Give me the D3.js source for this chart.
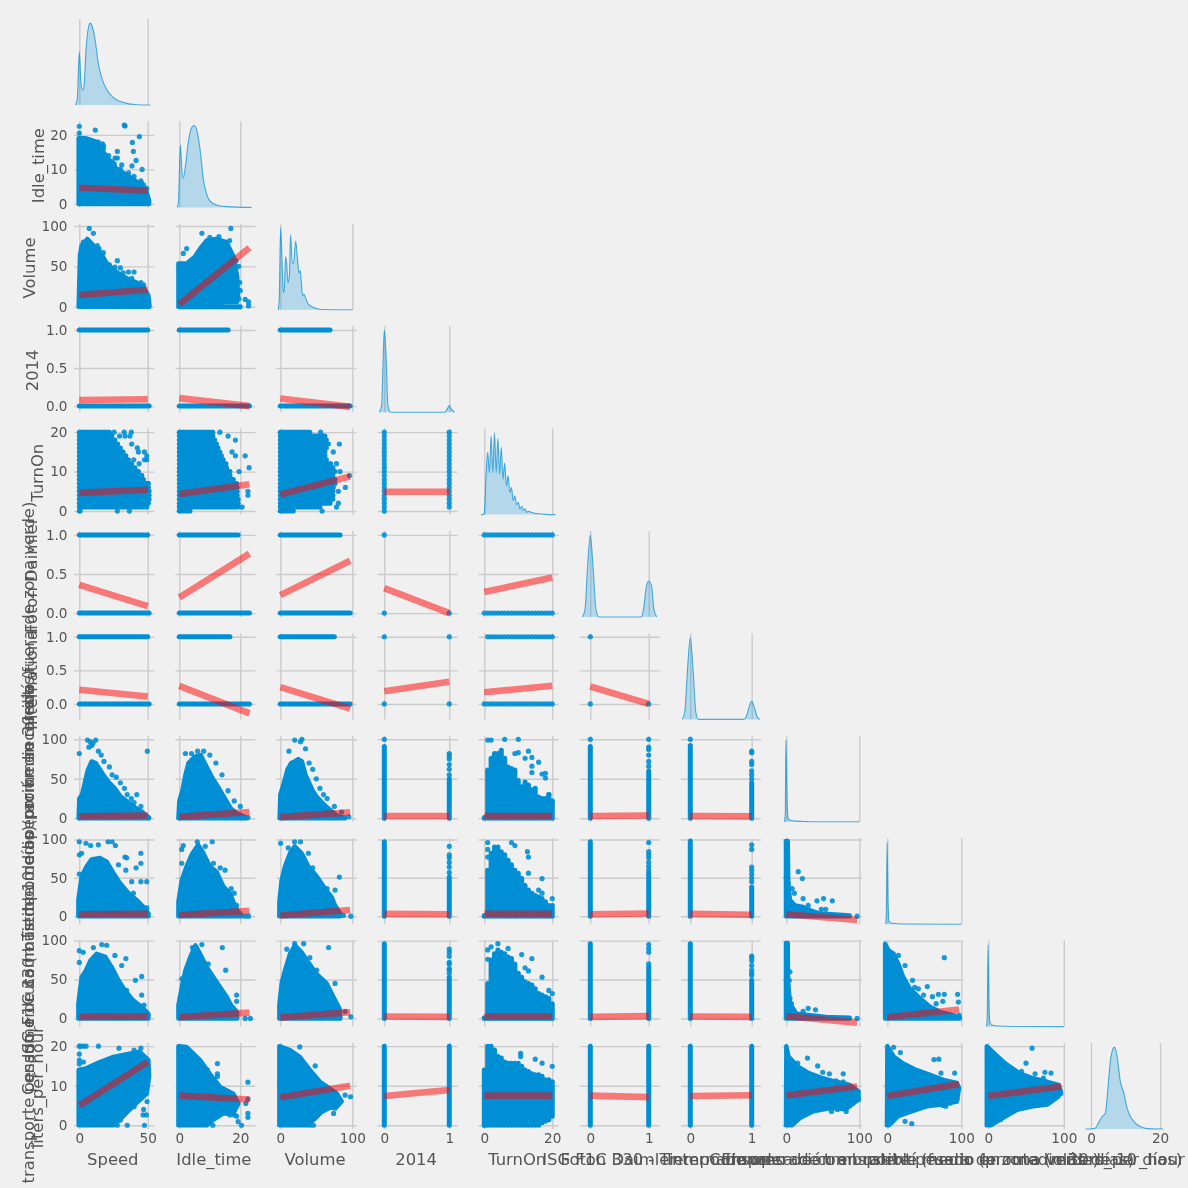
<!DOCTYPE html>
<html>
<head>
<meta charset="utf-8">
<script src="https://cdn.jsdelivr.net/npm/d3@7"></script>
<style>
  html, body { margin: 0; padding: 0; background: #f0f0f0; }
  svg { display: block; filter: blur(0.4px); }
  text { font-family: "DejaVu Sans", sans-serif; fill: #555555; }
</style>
</head>
<body>
<svg id="chart" width="1188" height="1188"></svg>
<script>
// variable names, the three long ones overlap in the picture so they are a best reading
var varNames = ["Speed", "Idle_time", "Volume", "2014", "TurnOn", "Foton Daimler", "International",
  "ISG F1C 330 - Tiempo de operación en ralentí (fuera de zona verde)",
  "Consumo de combustible medio (promedio 30 días)",
  "Empresa de transporte pesado en ruta (más de 10 días) por km recorrido",
  "liters_per_hour"];

var xLims = [[-3.65, 54.8], [-1.28, 24.95], [-5.3, 105.8], [-0.103, 1.128], [-1.65, 21.9], [-0.18, 1.19],
  [-0.153, 1.15], [-5.9, 103.7], [-5.7, 102.4], [-5.4, 100.5], [-1.65, 21.5]];
var yLims = [[], [-1, 23.9], [-3.8, 102.7], [-0.08, 1.05], [-0.9, 20.9], [-0.05, 1.05],
  [-0.23, 1.05], [-4.4, 104.4], [-10.4, 101.6], [-10.5, 100], [-0.95, 20.8]];
var xTicks = [[0, 50], [0, 20], [0, 100], [0, 1], [0, 20], [0, 1], [0, 1], [0, 100], [0, 100], [0, 100], [0, 20]];
var yTicks = [[], [0, 10, 20], [0, 50, 100], [0, 0.5, 1], [0, 10, 20], [0, 0.5, 1], [0, 0.5, 1],
  [0, 50, 100], [0, 50, 100], [0, 50, 100], [0, 10, 20]];
var yTickFormats = ["d", "d", "d", ".1f", "d", ".1f", ".1f", "d", "d", "d", "d"];
var kdeLim = [0, 1.05];

// density curves, [x, density relative to the peak]
var speedKde = [[-2.9,0],[-1.5,.065],[0,.65],[1.2,.27],[2.5,.18],[3.4,.22],[4.9,.67],[6.6,.94],[8,1],[9.8,.94],[11.5,.8],[13.9,.51],[16.4,.33],[20,.19],[24.9,.09],[29.8,.045],[34.6,.02],[39.5,.008],[44.4,0],[52,0]];
var idleKde = [[-.7,0],[-.3,.06],[.35,.76],[.9,.42],[1.3,.355],[2,.5],[3,.81],[4,.97],[4.8,1],[5.7,.95],[6.8,.71],[7.9,.34],[9,.16],[10,.08],[12.2,.03],[15.5,.01],[23.7,0]];
var volumeKde = [[-2.9,0],[-1.5,.13],[.4,1],[2.7,.53],[4.1,.21],[5.5,.25],[7.4,.65],[8.8,.57],[10.6,.33],[12.5,.41],[14.3,.92],[16.6,.57],[18.5,.57],[21.3,.84],[23.6,.65],[25.9,.45],[27.8,.48],[29.2,.33],[31,.17],[32.9,.19],[35.7,.13],[38.9,.07],[43.5,.04],[50.5,.016],[57.4,.004],[100.5,0]];
var flag2014Kde = [[-.077,0],[-.041,.08],[-.015,.72],[0,1],[.026,.72],[.056,.08],[.097,0],[.933,0],[.969,.04],[1,.08],[1.03,.04],[1.08,0]];
var turnOnKde = [[-1,0],[-.3,0],[0,.02],[.5,.47],[1,.76],[1.5,.51],[2,.96],[2.5,.51],[3,1],[3.5,.51],[4,.93],[4.5,.49],[5,.82],[5.5,.43],[6,.63],[6.5,.35],[7,.47],[7.5,.27],[8,.33],[8.5,.17],[9,.23],[9.5,.12],[10,.15],[10.5,.07],[11,.1],[11.5,.05],[12,.07],[12.5,.03],[13,.04],[14,.025],[15,.015],[16,.01],[18,.003],[21,0]];
var fotonKde = [[-.137,0],[-.091,.09],[-.05,.575],[0,1],[.05,.575],[.097,.09],[.148,0],[.87,0],[.91,.09],[.96,.37],[1,.44],[1.05,.37],[1.09,.09],[1.14,0]];
var intlKde = [[-.13,0],[-.09,.09],[-.05,.55],[0,1],[.05,.55],[.09,.09],[.13,0],[.87,0],[.91,.03],[.95,.13],[1,.22],[1.05,.13],[1.09,.03],[1.13,0]];
var modeAKde = [[-2.3,0],[-1.4,.1],[-.5,1],[.9,.35],[2.3,.05],[5,.02],[14,.008],[25,.004],[37,0],[100,0]];
var modeBKde = [[-2.3,0],[-1.4,.1],[-.3,1],[.9,.3],[2.3,.04],[5,.015],[14,.006],[30,.002],[100,0]];
var modeCKde = [[-2.3,0],[-1.4,.12],[-.3,1],[.9,.3],[2.3,.05],[5,.02],[14,.007],[30,.002],[100,0]];
var litersKde = [[-1.65,0],[-.5,0],[1.2,.01],[2.1,.07],[3.2,.15],[4.2,.2],[4.7,.4],[5.8,.89],[6.8,1],[7.7,.85],[8.4,.6],[9.5,.44],[10.4,.26],[11.7,.13],[13,.065],[14.3,.03],[16.3,.005],[20.9,0]];
var kdes = [speedKde, idleKde, volumeKde, flag2014Kde, turnOnKde, fotonKde, intlKde, modeAKde, modeBKde, modeCKde, litersKde];

// TurnOn only takes whole values
var turnOnLevels = [0,1,2,3,4,5,6,7,8,9,10,11,12,13,14,15,16,17,18,19,20];

// dense parts of the clouds as outlines [x, y], loose points as [x, y]
var idleBlobs = [[[-.5,0],[-.5,19],[5,19],[12.7,18],[20,13.7],[27,10.3],[34.6,8.4],[42,6.5],[49,3.6],[51,1],[51,0]]];
var idleDots = [[[0,22.5],[0,20.5],[32.9,22.8],[33.4,22.6],[11.7,21.4],[13.9,17.9],[16.9,17.4],[17.7,16.9],[17.7,16.1],[27.8,15.2],[26.1,13.3],[27.8,13.3],[25.6,11.6],[31,11.3],[24.9,11],[43.9,19.5],[38.8,17.8],[39.5,15.2],[41.5,12.6],[38.5,11],[45.9,10],[45,6.7],[45.5,6],[49.3,4.5],[21.5,14],[24,12.2],[30,10],[36,9],[40,8],[47,5.5],[16,16.5]]];
var idleFits = [[0,4.7,50,3.8]];

var volumeBlobs = [[[-.5,0],[.5,64],[1.7,76],[5.9,84],[10.3,76],[15.2,68],[20,54],[24.9,46],[29.8,40],[35.9,34],[42,30],[46.9,24],[50.5,14],[51.3,1],[51.3,0]],
  [[-.3,0],[-.3,53.7],[2.4,53.7],[5.1,62],[6.8,72],[9,82],[12,84],[15.5,80],[17.8,62],[19,37],[19.2,16],[19,6],[15.5,6],[12,4],[10,0]]];
var volumeDots = [[[7.3,97],[10.3,91],[13.2,75.7],[14.4,72],[17.6,67],[27.8,57],[26,49],[30,48],[35.9,43],[40,43],[38.3,35],[45,30],[22,52],[32,42],[47,27],[3,80]],
  [[7.4,91],[16.9,97],[1.3,66],[2.4,72],[21.6,9],[22.7,6],[22.7,1],[19.5,50],[18.6,57],[19.8,30],[20,20],[19.5,10],[16.5,82],[13,87],[10,86]]];
var volumeFits = [[0,14.5,50,21], [0,3,23,73]];
var volumeHbars = [[], [[0,0,20]]];

var flag2014Hbars = [[[1,0,50],[0,0,51]], [[1,0,16],[0,0,23]], [[1,0,69],[0,0,97]]];
var flag2014Fits = [[0,.08,50,.09], [0,.105,23,0], [0,.1,97,-.01]];

var turnOnSpeedMax = [.6,49.3,50.5,51,51,51,50.5,50.5,46.9,45.7,43.2,40.7,38.3,35.9,34,32,30,28,26,23.7,22];
var turnOnIdleMax = [3.5,19.3,19.3,19.3,19,19,19,18.8,17.7,16.6,16.6,15.5,15.3,14.4,13.8,13.3,12.7,12.2,11.6,11,11];
var turnOnVolumeMax = [18,55,69,73,73,73,73.6,76,76,73,76,73,70,64,62,62,64,66.7,64,62,41];
var turnOnDots = [[[25.4,20],[32.8,20],[38,20],[29.4,19],[33.4,19],[37,19],[38.3,17],[42.4,16],[43.2,15],[47.6,15],[49.3,14],[39.8,13],[43.7,12],[47.6,13],[49.3,13],[27.8,0],[36.6,0]],
  [[13.3,20],[16,19],[18.4,18],[17.3,15],[18.4,14],[21.6,14],[19.6,10],[22.9,11],[22.5,5],[22.5,4],[20.6,1]],
  [[56,20],[82,17],[73.6,15],[78,12],[83,10],[96,9],[90.3,6],[80.6,5],[80.6,2],[78,1],[58,0]],
  turnOnLevels.map(function(v) { return [0, v]; }).concat(turnOnLevels.slice(1).map(function(v) { return [1, v]; }))];
var turnOnFits = [[0,4.6,50,5.4], [0,4.3,23,6.8], [0,4.2,97,8.8], [0,4.9,1,4.9]];

var fotonHbars = [[[1,0,50],[0,0,51]], [[1,0,19.3],[0,0,23]], [[1,0,83],[0,0,97]]];
var fotonDots = [[], [], [], [[0,1],[0,0],[1,0]],
  turnOnLevels.map(function(v) { return [v, 1]; }).concat(turnOnLevels.map(function(v) { return [v, 0]; }))];
var fotonFits = [[0,.36,50,.09], [0,.2,23,.76], [0,.23,97,.67], [0,.32,1,0], [0,.27,20,.455]];

var intlHbars = [[[1,0,50],[0,0,51]], [[1,0,16.6],[0,0,23]], [[1,0,75],[0,0,97]]];
var intlDots = [[], [], [], [[0,1],[1,1],[0,0],[1,0]],
  turnOnLevels.slice(1).map(function(v) { return [v, 1]; }).concat(turnOnLevels.map(function(v) { return [v, 0]; })),
  [[0,1],[0,0],[1,0]]];
var intlFits = [[0,.21,50,.11], [0,.27,23,-.14], [0,.25,97,-.07], [0,.19,1,.33], [0,.174,20,.27], [0,.26,1,0]];

var modeABlobs = [[[-.5,0],[0,25],[2,30],[4,45],[6,60],[9,72],[12,70],[15,62],[18,54],[22,45],[26,38],[30,28],[36,20],[42,12],[48,5],[51,1],[51,0]],
  [[-.3,0],[0,22],[1,35],[2,55],[3,70],[5,78],[7,80],[9,65],[11,50],[13,38],[15,25],[17,12],[19,6],[22,1],[22,0]],
  [[-1,0],[0,30],[5,45],[10,62],[15,70],[20,72],[25,75],[30,72],[35,55],[40,45],[45,35],[50,28],[60,18],[70,10],[80,3],[90,1],[90,0]]];
var modeADots = [[[6,99],[8,97],[9,92],[10,95],[12,99],[14,85],[0,82],[7,90],[16,80],[18,72],[22,65],[24,55],[27,52],[30,45],[33,38],[35,30],[38,25],[40,20],[45,15],[49.7,85],[46,8],[42,30]],
  [[2,82],[4,82],[6,85],[8,85],[10,80],[12,70],[14,55],[16,35],[18,22],[20,15],[22.5,1]],
  [[20,99],[28,97],[30,100],[35,88],[12,85],[40,70],[45,62],[50,50],[55,38],[60,30],[65,25],[75,15],[85,8],[95,2]],
  [[0,100],[1,82],[1,79],[1,75],[1,68],[1,62],[1,55]],
  [[1,99],[2,99],[6,100],[10,100],[13,85],[9,82],[10,83],[12,76],[14,77],[16,71],[14,66],[14,58],[17,56],[18,57],[18,51],[19,30],[20,22]],
  [[0,100],[1,100],[1,90],[1,87],[1,80],[1,72],[1,66]],
  [[0,100],[1,85],[1,83],[1,72],[1,68],[1,60],[1,55],[1,50]]];
var modeATurnOnTop = [1,61,76,82,82,86,76,65,63,61,48,40,46,42,36,38,27,25,25,30,21];
var modeAFlagBars = [[], [], [], [[0,0,91],[1,0,50]], [], [[0,0,91],[1,0,60]], [[0,0,92],[1,0,45]]];
var modeAFits = [[0,2.5,50,3.5], [0,1.8,23,8], [0,1.5,97,7.5], [0,3,1,3], [0,3,20,3], [0,3,1,3.5], [0,3,1,2.5]];

var modeBBlobs = [[[-.7,0],[-.7,21],[1.7,52],[5.4,65],[9,74],[15,76],[20,71],[25,56],[29.8,43],[36,30],[42,21],[47,12],[50.6,3.5],[50.6,0]],
  [[-.3,0],[-.3,19],[.8,47],[2.4,65],[4,80],[6.2,93],[7.9,82],[10,65],[12.2,58],[14.4,39],[16.6,30],[17.7,19],[19,8],[20.5,1],[20.5,0]],
  [[-1.4,0],[-1.4,19],[1.8,47],[6.5,65],[13.4,82],[20,91],[29.6,82],[38.9,65],[50.5,52],[62,36],[71.4,25],[76,14],[83,3.5],[83,0]],
  [], [], [], [],
  [[-.5,0],[-.5,98],[2,98],[2.7,43],[5,21],[12,14],[23,12],[32,8],[46,3.5],[87,1],[87,0]]];
var modeBDots = [[[0,97],[4.9,95],[8.3,92],[13.9,93],[21,97],[24,97],[26.4,92],[0,80],[1.7,82],[33.4,77],[34.6,76],[28.6,67],[34,60],[38.3,45],[45,45],[49.3,45],[45,82],[45,69],[41.5,63],[0,55],[39.5,30],[49.3,11]],
  [[.8,87],[.8,69],[1.3,92],[5.9,97],[10.8,97],[8.5,91],[11.2,69],[15,60],[13.4,63],[17,36],[18,30],[18.8,14],[22.7,0],[21.6,0]],
  [[19.8,97],[28,97],[.4,95],[11,89],[39,82],[45,63],[82,51],[65,36],[76,34],[98,0],[87.6,1]],
  [[1,91],[1,80],[1,76],[1,70],[1,64],[1,57]],
  [[1,96],[8,96],[9,92],[1,87],[1,77],[12.7,84],[13,77],[13,56],[17,49],[20,23],[14,29],[16,34],[17,30]],
  [[1,96],[1,84],[1,80],[1,76],[1,70],[1,65],[1,60]],
  [[1,93],[1,87],[1,64],[1,60],[1,55],[1,50],[1,45]],
  [[16.4,58],[22,49],[2.7,43],[8,36],[11,30],[23,23],[42,20],[51,23],[63,20],[48,9],[54,9],[30,14],[97,0]]];
var modeBTurnOnTop = [1,60,82,90,90,84,80,73,67,60,56,49,40,34,30,27,25,23,19,14,14];
var modeBFlagBars = [[], [], [], [[0,0,97],[1,0,51]], [], [[0,0,97],[1,0,56]], [[0,0,98],[1,0,38]]];
var modeBFits = [[0,2.5,50,3.2], [0,1.5,23,7], [0,1,97,8], [0,3,1,2.5], [0,3,20,3], [0,2.5,1,3.5], [0,3,1,2], [0,2.6,97,-5]];

var modeCBlobs = [[[-.7,0],[-.7,19],[1.7,53],[4.9,62],[8,74],[12.7,83],[19,79],[23.7,66],[28.6,49],[33.4,36],[39.5,23],[45.6,15],[50.5,6],[50.5,0]],
  [[-.3,0],[-.3,17],[.8,40],[2,62],[3.6,79],[5.3,94],[6.8,83],[9,66],[11.2,53],[13.4,40],[15.5,28],[17,17],[19,8],[19,0]],
  [[-1.4,0],[-1.4,17],[1.8,45],[6.5,62],[13.4,83],[20.3,94],[29.6,85],[38.9,72],[50.5,57],[64.4,45],[73.6,28],[83,11],[83,0]],
  [], [], [], [],
  [[-.5,0],[-.5,97],[2,97],[2.3,49],[5,19],[14,6],[55,2],[87,1],[87,0]],
  [[-3,0],[-3,96],[1.3,88],[8,83],[15,70],[21.6,53],[30.6,38],[44,26],[57.6,15],[71,8.5],[98,2],[98,0]]];
var modeCDots = [[[0,87],[2.9,85],[10.3,91],[16.4,95],[20,94],[0,72],[26,81],[34,77],[31,68],[41,49],[45.6,54],[34.6,36],[45.6,30],[47.3,17],[50,4]],
  [[.8,32],[.8,51],[7.4,95],[4.3,91],[14.1,91],[9.5,70],[15.2,62],[18.8,30],[18.8,22],[21.6,0],[23.3,0]],
  [[9,89],[20,96],[32.5,96],[41,78],[67,91],[50.5,62],[76,45],[83,1],[98,2],[90,9]],
  [[1,89],[1,85],[1,80],[1,72],[1,70],[1,64],[1,62],[1,58]],
  [[1,88],[1,76],[4,96],[2,92],[7,90],[11,82],[14,77],[12,65],[13,61],[17,53],[19,36],[20,32]],
  [[1,95],[1,90],[1,85],[1,70],[1,66]],
  [[1,80],[1,78],[1,74],[1,68],[1,62],[1,58],[1,55]],
  [[5,60],[4,49],[5,26],[7,19],[23,9],[30,13],[40,11],[97,0]],
  [[8,83],[15,81],[24,68],[34,49],[77,78],[54,41],[37,40],[42,38],[49,30],[61,28],[69,31],[77,31],[95,31],[96,21],[66,19],[75,22],[97,4]]];
var modeCTurnOnTop = [1,45,75,83,88,85,83,79,77,70,58,53,47,45,43,38,32,30,28,26,19];
var modeCFlagBars = [[], [], [], [[0,0,96],[1,0,53]], [], [[0,0,96],[1,0,64]], [[0,0,96],[1,0,49]]];
var modeCFits = [[0,2,50,2.5], [0,1.5,23,7.5], [0,1,97,8], [0,2.5,1,2], [0,2.5,20,2.5], [0,2,1,3], [0,2.5,1,2], [0,3,97,-5.5], [0,1.5,97,11.5]];

var litersBlobs = [[[-.5,0],[-.5,14],[5,14.4],[15,16],[25,17.3],[34.6,18],[44,18.6],[50.5,16.5],[51,12.3],[49.3,8],[43,6],[37,4],[32.6,2.5],[27,.5],[25,0]],
  [[-.3,0],[-.3,20],[2.4,19.8],[6.8,16.5],[10,13],[13.4,9.7],[17.7,8],[19.4,5.5],[17.7,3],[14.4,3],[11,1.3],[9,0]],
  [[-1.4,0],[-1.4,20],[13.4,19],[27,17.3],[41,14],[55,11],[69,9.3],[78.5,8],[85.3,6],[78.5,4.7],[67,4.3],[57.8,3.4],[46,1.3],[37,0]],
  [], [], [], [],
  [[-.5,0],[0,20],[3,17.4],[15.5,14.9],[31,13.2],[50,11.9],[68,11],[87,10.2],[99,8.6],[99,6.5],[81,4],[62,4.4],[37,3.5],[18.6,1.8],[8,0]],
  [[-.5,0],[0,20],[8.5,17.4],[21,15.7],[39,14],[57,12.8],[75.6,11.5],[94,10.7],[97,9.4],[94,6],[72.5,5.2],[54,4.8],[33,3.5],[14.6,2.3],[2.4,0]],
  [[-2,0],[-2,20],[10,17.8],[22,15.7],[41,13.2],[59,11.9],[78,11],[93,10.2],[96,8.6],[93,7.3],[78,5.2],[59,4.8],[38,3.9],[19,1.8],[3.7,0]]];
var litersDots = [[[0,20],[1,20],[3,20],[5,20],[0,18],[0,16.5],[0,15.5],[3,16],[14,20],[29,19.5],[40,19],[45,19.5],[27,16],[38,5.5],[47,4],[46.6,2.6],[49,2.6],[47.6,0],[49.5,6],[27.8,0],[35,0],[30,1.3],[40,4.7]],
  [[12.5,15.6],[12.5,13],[12.5,12.3],[9.2,14],[22.5,10.9],[22.5,6.6],[21.8,5.5],[22.5,3],[22.5,2],[18.8,2.3],[19.3,.9],[20.4,0],[16.6,2.6],[15.5,3],[18,2.6],[11,0]],
  [[35.7,14.8],[48.5,15],[27,19.8],[90,7.6],[97.6,7.2],[41,0],[46,0],[74,3],[76,4.3]],
  [], [[0,0],[10.7,18.2],[10.7,17.4],[15,16.7],[17,15.7],[20,14.9]],
  [], [],
  [[29,17],[15.5,15.7],[43,15],[50,13.4],[59,13],[68,11.2],[78,13],[69,11],[78,11],[62,3.5],[82,3.5],[70,4],[99,6.5]],
  [[8.5,19.7],[17.7,18.4],[63,16.6],[69.5,16.7],[91,13.2],[72.5,13.2],[75,5],[24,1],[33,.4],[79,4.8],[85,5.6],[94,6.6]],
  [[58,19.5],[50,15.7],[44,13.6],[62,13],[75,13.4],[83,13.2],[73,11.9],[96,8],[84,6.4],[16,1.4]]];
var litersTurnOnTop = [14,20,20,19,17.4,17,16,15.7,15.7,15.7,15.7,14.9,14,13.6,13,12.8,12.8,12.4,11.5,11.5,11];
var litersTurnOnLow = [0,0,0,0,0,0,0,0,0,0,0,0,0,0,0,0,0,.6,1,1.4,2.3];
var litersFlagBars = [[], [], [], [[0,0,20],[1,0,20]], [], [[0,0,20],[1,0,20]], [[0,0,20],[1,0,20]]];
var litersFits = [[0,5,50,16], [0,7.5,23,6.5], [0,7,97,10], [0,7.4,1,8.9], [0,7.5,20,7.5], [0,7.5,1,7.1], [0,7.4,1,7.6], [0,7.5,97,9.8], [0,7.4,97,10.4], [0,7.4,97,9.8]];

function levelBars(high, low) {
  return turnOnLevels.map(function(v, i) { return [v, low ? low[i] : 0, high[i]]; });
}
function withLevels(bars, levels) {
  var out = bars.slice();
  out[4] = levels;
  return out;
}

var rowData = [
  null,
  { blobs: idleBlobs, dots: idleDots, fits: idleFits },
  { blobs: volumeBlobs, dots: volumeDots, fits: volumeFits, hbars: volumeHbars },
  { hbars: flag2014Hbars, fits: flag2014Fits },
  { dots: turnOnDots, fits: turnOnFits, hbars: [turnOnSpeedMax, turnOnIdleMax, turnOnVolumeMax].map(function(m) {
      return turnOnLevels.map(function(v, i) { return [v, 0, m[i]]; });
    }) },
  { hbars: fotonHbars, dots: fotonDots, fits: fotonFits },
  { hbars: intlHbars, dots: intlDots, fits: intlFits },
  { blobs: modeABlobs, dots: modeADots, fits: modeAFits, vbars: withLevels(modeAFlagBars, levelBars(modeATurnOnTop)) },
  { blobs: modeBBlobs, dots: modeBDots, fits: modeBFits, vbars: withLevels(modeBFlagBars, levelBars(modeBTurnOnTop)) },
  { blobs: modeCBlobs, dots: modeCDots, fits: modeCFits, vbars: withLevels(modeCFlagBars, levelBars(modeCTurnOnTop)) },
  { blobs: litersBlobs, dots: litersDots, fits: litersFits, vbars: withLevels(litersFlagBars, levelBars(litersTurnOnTop, litersTurnOnLow)) }
];

// layout of the grid of axes
var panelLeft = 74.3, colStep = 101.1, panelW = 80;
var panelTop = 19, rowStep = 102.4, panelH = 86;
var blue = "#008fd5", gridColor = "#cbcbcb";
var yLabelBase = [0, 44, 34.5, 38, 43, 37, 37, 34, 34, 34, 43];

var svg = d3.select("#chart");
var xScales = xLims.map(function(lim, c) {
  var colLeft = panelLeft + c * colStep;
  return d3.scaleLinear().domain(lim).range([colLeft, colLeft + panelW]);
});

function styleAxis(g) {
  g.select(".domain").remove();
  g.selectAll(".tick line").attr("stroke", gridColor).attr("stroke-width", 1.4);
  g.selectAll("text").style("font-size", "13.6px").style("font-family", '"DejaVu Sans", sans-serif').attr("fill", "#555555");
}

function drawPanel(r, c) {
  var rowTop = panelTop + r * rowStep;
  var rowBottom = rowTop + panelH;
  var colLeft = panelLeft + c * colStep;
  var x = xScales[c];
  var data = rowData[r] || {};

  var xAxis = d3.axisBottom(x).tickValues(xTicks[c]).tickSizeInner(-panelH).tickSizeOuter(0)
    .tickPadding(4.6).tickFormat(r == varNames.length - 1 ? d3.format("d") : "");
  svg.append("g").attr("transform", "translate(0," + rowBottom + ")").call(xAxis).call(styleAxis);

  if (c == r) { // diagonal, density only and no horizontal grid
    var yKde = d3.scaleLinear().domain(kdeLim).range([rowBottom, rowTop]);
    var area = d3.area().x(function(d) { return x(d[0]); }).y0(yKde(0)).y1(function(d) { return yKde(d[1]); })
      .curve(d3.curveMonotoneX);
    var line = d3.line().x(function(d) { return x(d[0]); }).y(function(d) { return yKde(d[1]); })
      .curve(d3.curveMonotoneX);
    svg.append("path").datum(kdes[r]).attr("d", area).attr("fill", blue).attr("opacity", 0.25);
    svg.append("path").datum(kdes[r]).attr("d", line).attr("fill", "none").attr("stroke", blue)
      .attr("stroke-width", 1.1).attr("opacity", 0.7);
    return;
  }

  var y = d3.scaleLinear().domain(yLims[r]).range([rowBottom, rowTop]);
  var yAxis = d3.axisLeft(y).tickValues(yTicks[r]).tickSizeInner(-panelW).tickSizeOuter(0)
    .tickPadding(6.8).tickFormat(c == 0 ? d3.format(yTickFormats[r]) : "");
  svg.append("g").attr("transform", "translate(" + colLeft + ",0)").call(yAxis).call(styleAxis);

  // dense cloud outline
  var blob = data.blobs && data.blobs[c];
  if (blob && blob.length) {
    var outline = d3.line().x(function(d) { return x(d[0]); }).y(function(d) { return y(d[1]); }).curve(d3.curveLinearClosed);
    svg.append("path").datum(blob).attr("d", outline).attr("fill", blue).attr("stroke", blue)
      .attr("stroke-width", 4.4).attr("stroke-linejoin", "round");
  }
  // runs of points on one y value
  (data.hbars && data.hbars[c] || []).forEach(function(b) {
    svg.append("line").attr("x1", x(b[1])).attr("x2", x(b[2])).attr("y1", y(b[0])).attr("y2", y(b[0]))
      .attr("stroke", blue).attr("stroke-width", 5).attr("stroke-linecap", "round");
  });
  // runs of points on one x value
  (data.vbars && data.vbars[c] || []).forEach(function(b) {
    svg.append("line").attr("x1", x(b[0])).attr("x2", x(b[0])).attr("y1", y(b[1])).attr("y2", y(b[2]))
      .attr("stroke", blue).attr("stroke-width", 5).attr("stroke-linecap", "round");
  });
  // loose points
  svg.append("g").selectAll("circle").data(data.dots && data.dots[c] || []).enter().append("circle")
    .attr("cx", function(d) { return x(d[0]); })
    .attr("cy", function(d) { return y(d[1]); })
    .attr("r", 2.6).attr("fill", blue).attr("opacity", 0.9);
  // regression line
  var fit = data.fits && data.fits[c];
  if (fit) {
    svg.append("line").attr("x1", x(fit[0])).attr("y1", y(fit[1])).attr("x2", x(fit[2])).attr("y2", y(fit[3]))
      .attr("stroke", "#ff0000").attr("stroke-opacity", 0.5).attr("stroke-width", 6.6);
  }
}

for (var r = 0; r < varNames.length; r++) {
  for (var c = 0; c <= r; c++) drawPanel(r, c);

  // axis titles, first column and bottom row only
  svg.append("text").attr("x", panelLeft + r * colStep + panelW / 2 - 1.5).attr("y", 1165)
    .attr("text-anchor", "middle").style("font-size", "16.4px").text(varNames[r]);
  if (r > 0) {
    svg.append("text").attr("transform", "translate(" + yLabelBase[r] + "," + (panelTop + r * rowStep + panelH / 2 + 1.2) + ") rotate(-90)")
      .attr("text-anchor", "middle").style("font-size", "16.4px").text(varNames[r]);
  }
}
</script>
</body>
</html>
